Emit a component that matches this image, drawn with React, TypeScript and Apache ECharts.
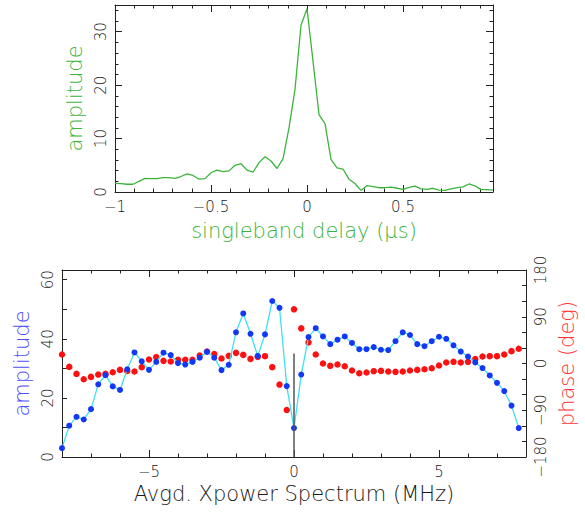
import React, { useEffect, useRef } from "react";
import * as echarts from "echarts";

// ---------- data ----------
const delayStart = -1;
const delayStep = 1 / 32;
const delayAmplitude = [
  1.6, 1.55, 1.45, 1.45, 2.0, 2.55, 2.5, 2.5, 2.7, 2.7, 2.55, 2.9, 3.4, 3.1, 2.4, 2.5,
  3.6, 4.1, 3.8, 3.95, 5.0, 5.3, 4.1, 3.7, 5.5, 6.6, 5.8, 4.4, 6.2, 12.0, 19.2, 31.2,
  34.3, 24.5, 14.5, 12.8, 6.1, 4.5, 4.3, 2.4, 1.6, 0.3, 1.2, 1.0, 0.8, 0.8, 0.9, 0.7,
  0.5, 0.85, 1.1, 0.6, 0.5, 0.7, 0.35, 0.3, 0.6, 0.8, 0.95, 1.5, 1.15, 0.45, 0.45, 0.35,
];

const freqStart = -8;
const freqStep = 0.25;
const xpowerAmplitude = [
  3.0, 10.6, 13.6, 12.7, 16.2, 24.6, 27.7, 23.9, 22.7, 29.7, 35.4, 32.4, 29.5, 32.2, 35.3, 34.5,
  31.8, 31.3, 32.2, 33.6, 35.6, 33.6, 29.4, 31.2, 42.2, 48.6, 41.7, 34.2, 41.5, 52.8, 50.5, 24.0,
  9.8, 27.9, 40.6, 43.6, 40.8, 38.2, 39.7, 40.8, 38.6, 36.5, 36.5, 37.2, 36.3, 36.2, 39.2, 42.2,
  41.3, 38.2, 37.5, 39.2, 40.7, 40.0, 37.8, 35.7, 34.0, 32.0, 30.1, 27.6, 25.1, 22.3, 17.4, 9.8,
];
const xpowerPhase = [
  17.4, -6.5, -20, -30.3, -25.8, -21.3, -20, -16.8, -12.3, -14.2, -15.5, -7.1, 7.7, 12.2, 5.1, 3.9,
  7.0, 7.0, 7.0, 15.4, 23.2, 18.0, 9.7, 14.7, 20.5, 16.6, 8.9, 12.8, 14.1, -7.1, -40.6, -89.6,
  104.3, 67.6, 40.6, 17.4, 0, -4.5, -2, -5.2, -13.5, -18.7, -17.4, -14.8, -14.2, -15.5, -16.1, -15.5,
  -13.5, -12.3, -11, -9.1, -3.9, 1.9, 3.2, 1.9, 3.2, 8.4, 13.5, 14.1, 14.1, 17.4, 23.8, 28.3,
];
const dcMarkerHeight = 35;

// ---------- ticks / labels ----------
const delayTickLabels = [-1, -0.5, 0, 0.5];
const delayMinorTicks = [-0.9, -0.8, -0.7, -0.6, -0.4, -0.3, -0.2, -0.1, 0.1, 0.2, 0.3, 0.4, 0.6, 0.7, 0.8, 0.9];
const delayAmpTickLabels = [0, 10, 20, 30];
const delayAmpMinorTicks = [2, 4, 6, 8, 12, 14, 16, 18, 22, 24, 26, 28, 32, 34];
const freqTickLabels = [-5, 0, 5];
const freqMinorTicks = [-7, -6, -4, -3, -2, -1, 1, 2, 3, 4, 6, 7];
const xpAmpTickLabels = [0, 20, 40, 60];
const xpAmpTicks = [10, 20, 30, 40, 50, 60];
const phaseTickLabels = [-180, -90, 0, 90, 180];
const phaseTicks = [-150, -120, -90, -60, -30, 0, 30, 60, 90, 120, 150];

const FONT = "DejaVu Sans";
const AXIS_COLOR = "#222";
const GREEN = "#3cb43c";
const BLUE_TEXT = "#4d4dff";
const RED_TEXT = "#ff3333";
const LABEL_COLOR = "#1a1a1a";

const fmt = (v: number) => (v < 0 ? "\u2212" + String(Math.abs(v)) : String(v));

function mkAxis(
  gridIndex: number,
  position: string,
  min: number,
  max: number,
  ticks: number[],
  tickLen: number,
  showLine: boolean,
  labels?: number[] | null,
  extra?: any
) {
  return {
    type: "value",
    gridIndex,
    position,
    min,
    max,
    axisLine: { show: showLine, onZero: false, lineStyle: { color: AXIS_COLOR, width: 1 } },
    axisTick: {
      show: true,
      inside: true,
      length: tickLen,
      customValues: ticks,
      lineStyle: { color: AXIS_COLOR, width: 1 },
    },
    axisLabel: labels
      ? {
          show: true,
          customValues: labels,
          formatter: fmt,
          color: LABEL_COLOR,
          fontFamily: FONT,
          fontSize: 15,
          fontWeight: 300,
          margin: 7,
        }
      : { show: false },
    splitLine: { show: false },
    minorTick: { show: false },
    ...(extra || {}),
  };
}

const rotatedLabels = (labels: number[]) => ({
  show: true,
  customValues: labels,
  formatter: fmt,
  color: LABEL_COLOR,
  fontFamily: FONT,
  fontSize: 15,
  fontWeight: 300,
  margin: 7,
  rotate: 90,
});

export default function App() {
  const ref = useRef<HTMLDivElement>(null);

  useEffect(() => {
    if (!ref.current) return;
    const chart = echarts.init(ref.current, null, { renderer: "svg" });

    const delayData = delayAmplitude.map((v, i) => [delayStart + i * delayStep, v]);
    const ampData = xpowerAmplitude.map((v, i) => [freqStart + i * freqStep, v]);
    const phaseData = xpowerPhase.map((v, i) => [freqStart + i * freqStep, v]);
    const dMax = delayStart + (delayAmplitude.length - 1) * delayStep;

    const nameStyle = (color: string) => ({ color, fontFamily: FONT, fontSize: 21, fontWeight: 300 });

    const option: any = {
      animation: false,
      backgroundColor: "#ffffff",
      grid: [
        { left: 115, right: 92, top: 5, bottom: 320 },
        { left: 62, right: 56, top: 270, bottom: 55 },
      ],
      xAxis: [
        mkAxis(0, "bottom", delayStart, dMax, delayTickLabels, 7, true, delayTickLabels, {
          name: "singleband delay (\u03bcs)",
          nameLocation: "middle",
          nameGap: 28,
          nameTextStyle: nameStyle(GREEN),
        }),
        mkAxis(0, "bottom", delayStart, dMax, delayMinorTicks, 3.5, false),
        mkAxis(0, "top", delayStart, dMax, delayTickLabels, 7, true),
        mkAxis(0, "top", delayStart, dMax, delayMinorTicks, 3.5, false),
        mkAxis(1, "bottom", -8, 8, freqTickLabels, 7, true, freqTickLabels, {
          name: "Avgd. Xpower Spectrum (MHz)",
          nameLocation: "middle",
          nameGap: 26,
          nameTextStyle: nameStyle("#1a1a1a"),
        }),
        mkAxis(1, "bottom", -8, 8, freqMinorTicks, 3.5, false),
        mkAxis(1, "top", -8, 8, freqTickLabels, 7, true),
        mkAxis(1, "top", -8, 8, freqMinorTicks, 3.5, false),
      ],
      yAxis: [
        mkAxis(0, "left", 0, 35, delayAmpTickLabels, 7, true, delayAmpTickLabels, {
          name: "amplitude",
          nameLocation: "middle",
          nameGap: 29,
          nameTextStyle: nameStyle(GREEN),
          axisLabel: rotatedLabels(delayAmpTickLabels),
        }),
        mkAxis(0, "left", 0, 35, delayAmpMinorTicks, 3.5, false),
        mkAxis(0, "right", 0, 35, delayAmpTickLabels, 7, true),
        mkAxis(0, "right", 0, 35, delayAmpMinorTicks, 3.5, false),
        mkAxis(1, "left", 0, 63.3, xpAmpTicks, 5, true, xpAmpTickLabels, {
          name: "amplitude",
          nameLocation: "middle",
          nameGap: 28,
          nameTextStyle: nameStyle(BLUE_TEXT),
          axisLabel: rotatedLabels(xpAmpTickLabels),
        }),
        mkAxis(1, "right", -180, 180, phaseTicks, 4, true, phaseTickLabels, {
          name: "phase (deg)",
          nameLocation: "middle",
          nameGap: 30,
          nameTextStyle: nameStyle(RED_TEXT),
          axisLabel: rotatedLabels(phaseTickLabels),
        }),
      ],
      series: [
        {
          type: "line",
          xAxisIndex: 0,
          yAxisIndex: 0,
          data: delayData,
          showSymbol: false,
          symbol: "none",
          lineStyle: { color: GREEN, width: 1.3 },
          silent: true,
        },
        {
          type: "line",
          xAxisIndex: 4,
          yAxisIndex: 4,
          data: ampData,
          symbol: "circle",
          symbolSize: 6,
          lineStyle: { color: "#40e0f0", width: 1.3 },
          itemStyle: { color: "#1238f5", opacity: 1 },
          silent: true,
          markLine: {
            silent: true,
            symbol: "none",
            label: { show: false },
            lineStyle: { color: "#555", width: 1.5, type: "solid" },
            data: [[{ coord: [0, 0] }, { coord: [0, dcMarkerHeight] }]],
          },
        },
        {
          type: "scatter",
          xAxisIndex: 4,
          yAxisIndex: 5,
          data: phaseData,
          symbol: "circle",
          symbolSize: 6.5,
          itemStyle: { color: "#ff1010", opacity: 1 },
          silent: true,
        },
      ],
    };

    chart.setOption(option);
    return () => chart.dispose();
  }, []);

  return (
    <div
      ref={ref}
      style={{ position: "fixed", left: 0, top: 0, width: 585, height: 512, background: "#fff" }}
    />
  );
}
